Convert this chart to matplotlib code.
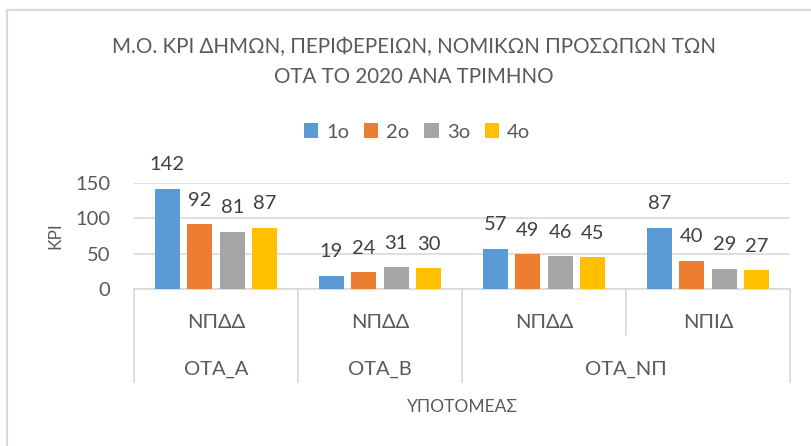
import numpy as np
import matplotlib.pyplot as plt
from matplotlib.lines import Line2D
import matplotlib.transforms as mtransforms

plt.rcParams['font.family'] = ['Lato', 'DejaVu Sans']

quarters = ["1ο", "2ο", "3ο", "4ο"]
subsectors = ["ΝΠΔΔ", "ΝΠΔΔ", "ΝΠΔΔ", "ΝΠΙΔ"]
groups = ["ΟΤΑ_Α", "ΟΤΑ_Β", "ΟΤΑ_ΝΠ"]
group_spans = [(0, 1), (1, 2), (2, 4)]
kpi = [
    [142, 19, 57, 87],
    [92, 24, 49, 40],
    [81, 31, 46, 29],
    [87, 30, 45, 27],
]
colors = ["#5B9BD5", "#ED7D31", "#A5A5A5", "#FFC000"]

text_col = "#595959"
grid_col = "#D9D9D9"

fig = plt.figure(figsize=(8.12, 4.46), dpi=100)
ax = fig.add_axes([134 / 812, 1 - 289 / 446, (790 - 134) / 812, (289 - 183) / 446])

x = np.arange(len(subsectors))
step = 0.198
width = 0.152
for i, (q, vals) in enumerate(zip(quarters, kpi)):
    bars = ax.bar(x + (i - 1.5) * step, vals, width, color=colors[i], label=q, zorder=3)
    for b, v in zip(bars, vals):
        ax.annotate(str(v), (b.get_x() + b.get_width() / 2, v), xytext=(0, 11),
                    textcoords="offset points", ha="center", va="bottom",
                    fontsize=14.5, color="#404040", annotation_clip=False)

ax.set_xlim(-0.5, 3.5)
ax.set_ylim(0, 150)
ax.set_yticks([0, 50, 100, 150])
ax.yaxis.grid(True, color=grid_col, lw=1.2, zorder=0)
ax.set_xticks([])
ax.tick_params(axis="y", length=0, pad=17, labelsize=14.5, labelcolor=text_col)
for s in ["top", "right", "left"]:
    ax.spines[s].set_visible(False)
ax.spines["bottom"].set_color(grid_col)
ax.spines["bottom"].set_linewidth(1.2)

# multi-level category axis
trans = mtransforms.blended_transform_factory(ax.transData, ax.transAxes)
h_ax = 289 - 183
y_outer = -(382 - 289) / h_ax
y_inner = -(335 - 289) / h_ax
for xb in [-0.5, 0.5, 1.5, 3.5]:
    ax.add_line(Line2D([xb, xb], [0, y_outer], transform=trans, color=grid_col,
                       lw=1.2, clip_on=False))
ax.add_line(Line2D([2.5, 2.5], [0, y_inner], transform=trans, color=grid_col,
                   lw=1.2, clip_on=False))
for xi, lab in zip(x, subsectors):
    ax.text(xi, -(323 - 289) / h_ax, lab, transform=trans, ha="center", va="center",
            fontsize=14.5, color=text_col)
for (a, b), lab in zip(group_spans, groups):
    ax.text((a + b - 1) / 2, -(369 - 289) / h_ax, lab, transform=trans, ha="center",
            va="center", fontsize=14.5, color=text_col)

fig.text(462 / 812, 1 - 407 / 446, "ΥΠΟΤΟΜΕΑΣ", ha="center", va="center",
         fontsize=12.5, color=text_col)
fig.text(55 / 812, 1 - 236 / 446, "KPI", ha="center", va="center", rotation=90,
         fontsize=12.5, color=text_col)

fig.text(414 / 812, 1 - 62 / 446,
         "Μ.Ο. ΚΡΙ ΔΗΜΩΝ, ΠΕΡΙΦΕΡΕΙΩΝ, ΝΟΜΙΚΩΝ ΠΡΟΣΩΠΩΝ ΤΩΝ\nΟΤΑ ΤΟ 2020 ΑΝΑ ΤΡΙΜΗΝΟ",
         ha="center", va="center", fontsize=14.8, color=text_col, linespacing=1.6)

fig.legend(loc="center", bbox_to_anchor=(417 / 812, 1 - 132 / 446), ncol=4,
           frameon=False, fontsize=14.5, labelcolor=text_col, handlelength=0.7,
           handleheight=0.7, handletextpad=0.4, columnspacing=0.75)

# chart border
fig.add_artist(Line2D([7 / 812, 7 / 812], [0, 1 - 10 / 446], color=grid_col, lw=1.5))
fig.add_artist(Line2D([7 / 812, 1], [1 - 10 / 446, 1 - 10 / 446], color=grid_col, lw=1.5))

fig.savefig("out.png", dpi=100)
